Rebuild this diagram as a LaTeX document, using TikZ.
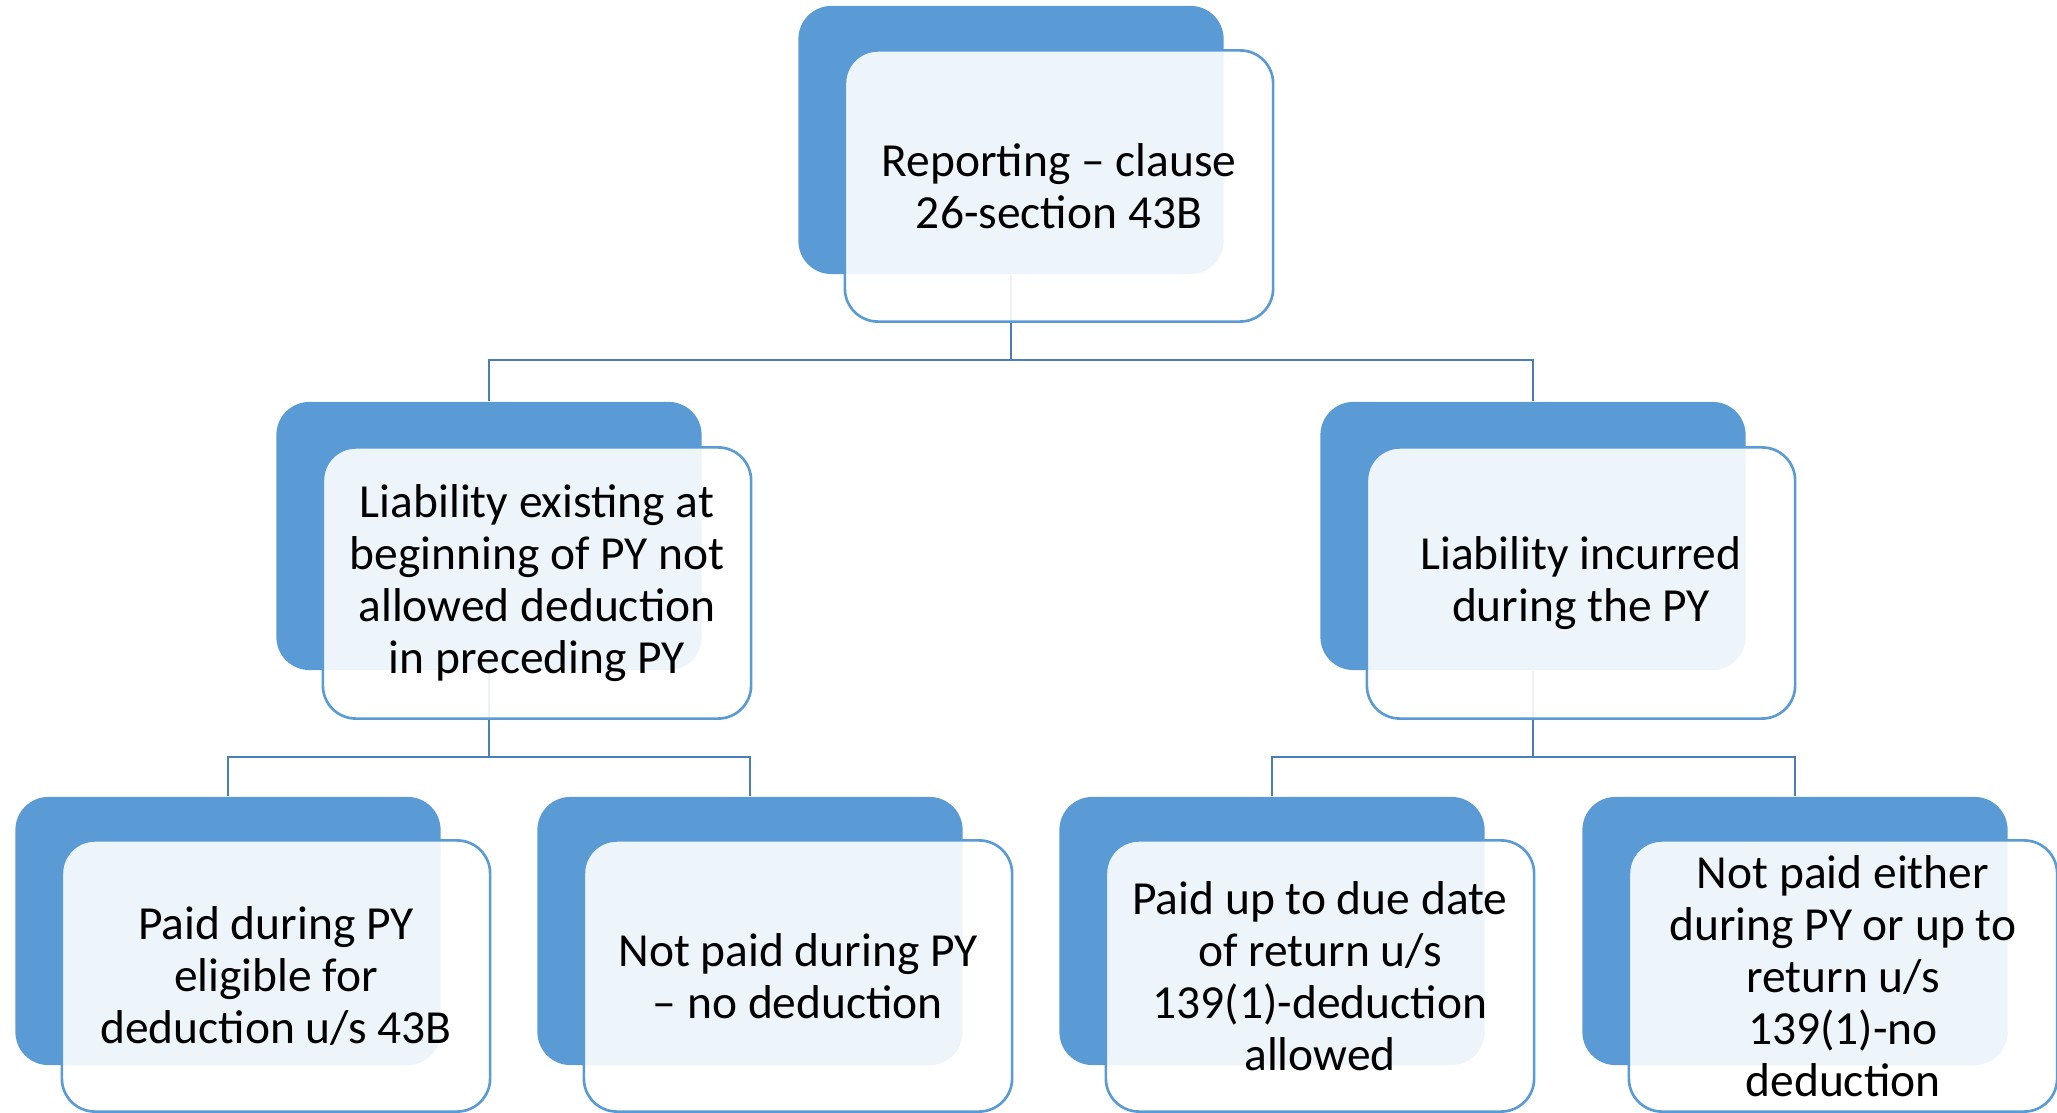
\documentclass[tikz,border=0pt]{standalone}
\usepackage{fontspec}
\setmainfont{Carlito}
\definecolor{accent}{HTML}{5B9BD5}
\definecolor{linkblue}{HTML}{4A7EBB}
\begin{document}
\begin{tikzpicture}[x=0.01cm, y=-0.01cm,
  backbox/.style={rectangle, rounded corners=0.33cm, fill=accent, draw=none,
    minimum width=4.25cm, minimum height=2.68cm, inner sep=0pt},
  frontbox/.style={rectangle, rounded corners=0.33cm, draw=accent, line width=0.75pt,
    fill=white, fill opacity=0.9, text opacity=1, text=black,
    minimum width=4.28cm, minimum height=2.71cm, inner sep=0pt, align=center,
    font=\fontsize{13.5pt}{14.8pt}\selectfont},
  link/.style={draw=linkblue, line width=0.8pt}]
\useasboundingbox (0,0) rectangle (2057,1113);

% back panels
\node[backbox] (top) at (1011,140) {};
\node[backbox] (ml)  at (489,536) {};
\node[backbox] (mr)  at (1533,536) {};
\node[backbox] (b1)  at (228,931) {};
\node[backbox] (b2)  at (750,931) {};
\node[backbox] (b3)  at (1272,931) {};
\node[backbox] (b4)  at (1795,931) {};

% connectors
\coordinate (busA) at (0,360);
\coordinate (busB) at (0,757);
\draw[link] (top.south) -- (top.south |- busA);
\draw[link] (ml.north) |- (mr.north |- busA) -- (mr.north);
\draw[link] (ml.south) -- (ml.south |- busB);
\draw[link] (b1.north) |- (b2.north |- busB) -- (b2.north);
\draw[link] (mr.south) -- (mr.south |- busB);
\draw[link] (b3.north) |- (b4.north |- busB) -- (b4.north);

% front cards with text
\node[frontbox] (topT) at (1059,186) {Reporting – clause\\26-section 43B};
\node[frontbox] (mlT)  at (537,583) {Liability existing at\\beginning of PY not\\allowed deduction\\in preceding PY};
\node[frontbox] (mrT)  at (1581,583) {Liability incurred\\during the PY};
\node[frontbox] (b1T)  at (276,976) {Paid during PY\\eligible for\\deduction u/s 43B};
\node[frontbox] (b2T)  at (798,976) {Not paid during PY\\– no deduction};
\node[frontbox] (b3T)  at (1320,976) {Paid up to due date\\of return u/s\\139(1)-deduction\\allowed};
\node[frontbox] (b4T)  at (1843,976) {Not paid either\\during PY or up to\\return u/s\\139(1)-no\\deduction};
\end{tikzpicture}
\end{document}
